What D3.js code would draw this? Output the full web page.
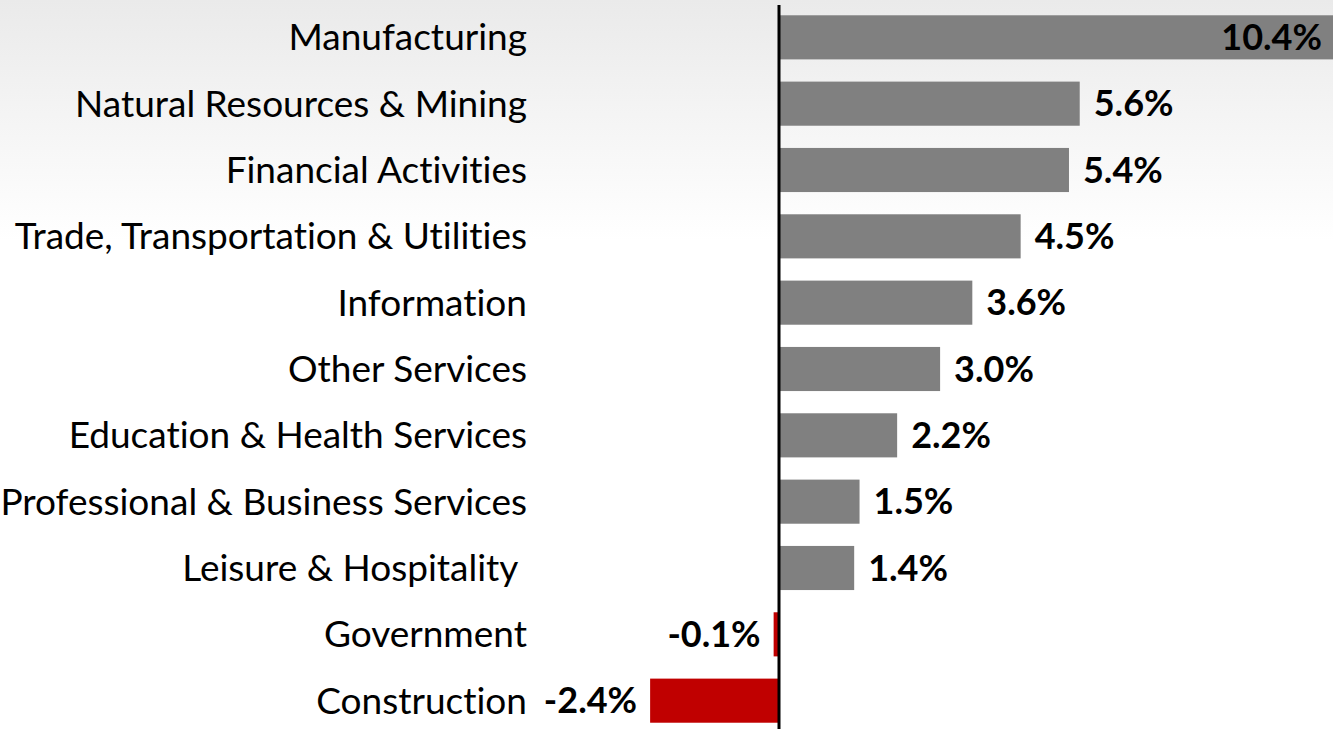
<!DOCTYPE html>
<html>
<head>
<meta charset="utf-8">
<script src="https://cdn.jsdelivr.net/npm/d3@7"></script>
<style>
  html, body { margin: 0; padding: 0; background: #fff; overflow: hidden; }
  svg { display: block; font-family: Lato, "Open Sans", sans-serif; font-variant-ligatures: none; }
</style>
</head>
<body>
<svg id="chart"></svg>
<script>
// sectors, sorted as in the picture (top to bottom)
var sectors = [
  "Manufacturing",
  "Natural Resources & Mining",
  "Financial Activities",
  "Trade, Transportation & Utilities",
  "Information",
  "Other Services",
  "Education & Health Services",
  "Professional & Business Services",
  "Leisure & Hospitality\u00a0",
  "Government",
  "Construction"
]
// job growth, percent
var growth = [10.4, 5.6, 5.4, 4.5, 3.6, 3.0, 2.2, 1.5, 1.4, -0.1, -2.4]
var growthLabels = ["10.4%", "5.6%", "5.4%", "4.5%", "3.6%", "3.0%", "2.2%", "1.5%", "1.4%", "-0.1%", "-2.4%"]

var width = 1333, height = 729

var svg = d3.select("#chart").attr("width", width).attr("height", height)

// soft grey fade at the top of the slide
var grad = svg.append("defs").append("linearGradient")
  .attr("id", "bg").attr("x1", 0).attr("y1", 0).attr("x2", 0).attr("y2", 1)
grad.append("stop").attr("offset", "0%").attr("stop-color", "#eaeaea")
grad.append("stop").attr("offset", "33%").attr("stop-color", "#ffffff")
grad.append("stop").attr("offset", "100%").attr("stop-color", "#ffffff")
svg.append("rect").attr("width", width).attr("height", height).attr("fill", "url(#bg)")

var data = sectors.map(function (s, i) {
  return { name: s, value: growth[i], label: growthLabels[i] }
})

var x = d3.scaleLinear().domain([0, 10]).range([779, 1316])
var y = d3.scaleBand().domain(sectors).range([4, 734]).paddingInner(0.335).paddingOuter(0.17)

// bars
svg.append("g").selectAll("rect")
  .data(data)
  .enter().append("rect")
    .attr("x", function (d) { return x(Math.min(0, d.value)) })
    .attr("y", function (d) { return y(d.name) })
    .attr("width", function (d) { return Math.abs(x(d.value) - x(0)) })
    .attr("height", y.bandwidth())
    .attr("fill", function (d) { return d.value < 0 ? "#c00000" : "#808080" })

// category labels
var yAxis = d3.axisLeft(y).tickSize(0).tickPadding(0)
var axisG = svg.append("g").attr("transform", "translate(527,0)").call(yAxis)
axisG.select(".domain").remove()
axisG.selectAll("text")
  .style("font-family", "Lato, 'Open Sans', sans-serif")
  .style("font-size", "37px")
  .attr("fill", "#000")
  .attr("dy", "0.35em")

// value labels
svg.append("g").selectAll("text")
  .data(data)
  .enter().append("text")
    .attr("x", function (d) {
      if (d.value > 10) return 1322
      return d.value < 0 ? x(d.value) - 13 : x(d.value) + 14
    })
    .attr("y", function (d) { return y(d.name) + y.bandwidth() / 2 })
    .attr("dy", "0.35em")
    .attr("text-anchor", function (d) { return (d.value < 0 || d.value > 10) ? "end" : "start" })
    .style("font-size", "36px")
    .style("font-weight", "bold")
    .attr("fill", "#000")
    .text(function (d) { return d.label })

// zero line
svg.append("line")
  .attr("x1", x(0)).attr("x2", x(0))
  .attr("y1", 5).attr("y2", height)
  .attr("stroke", "#000").attr("stroke-width", 3)
</script>
</body>
</html>
